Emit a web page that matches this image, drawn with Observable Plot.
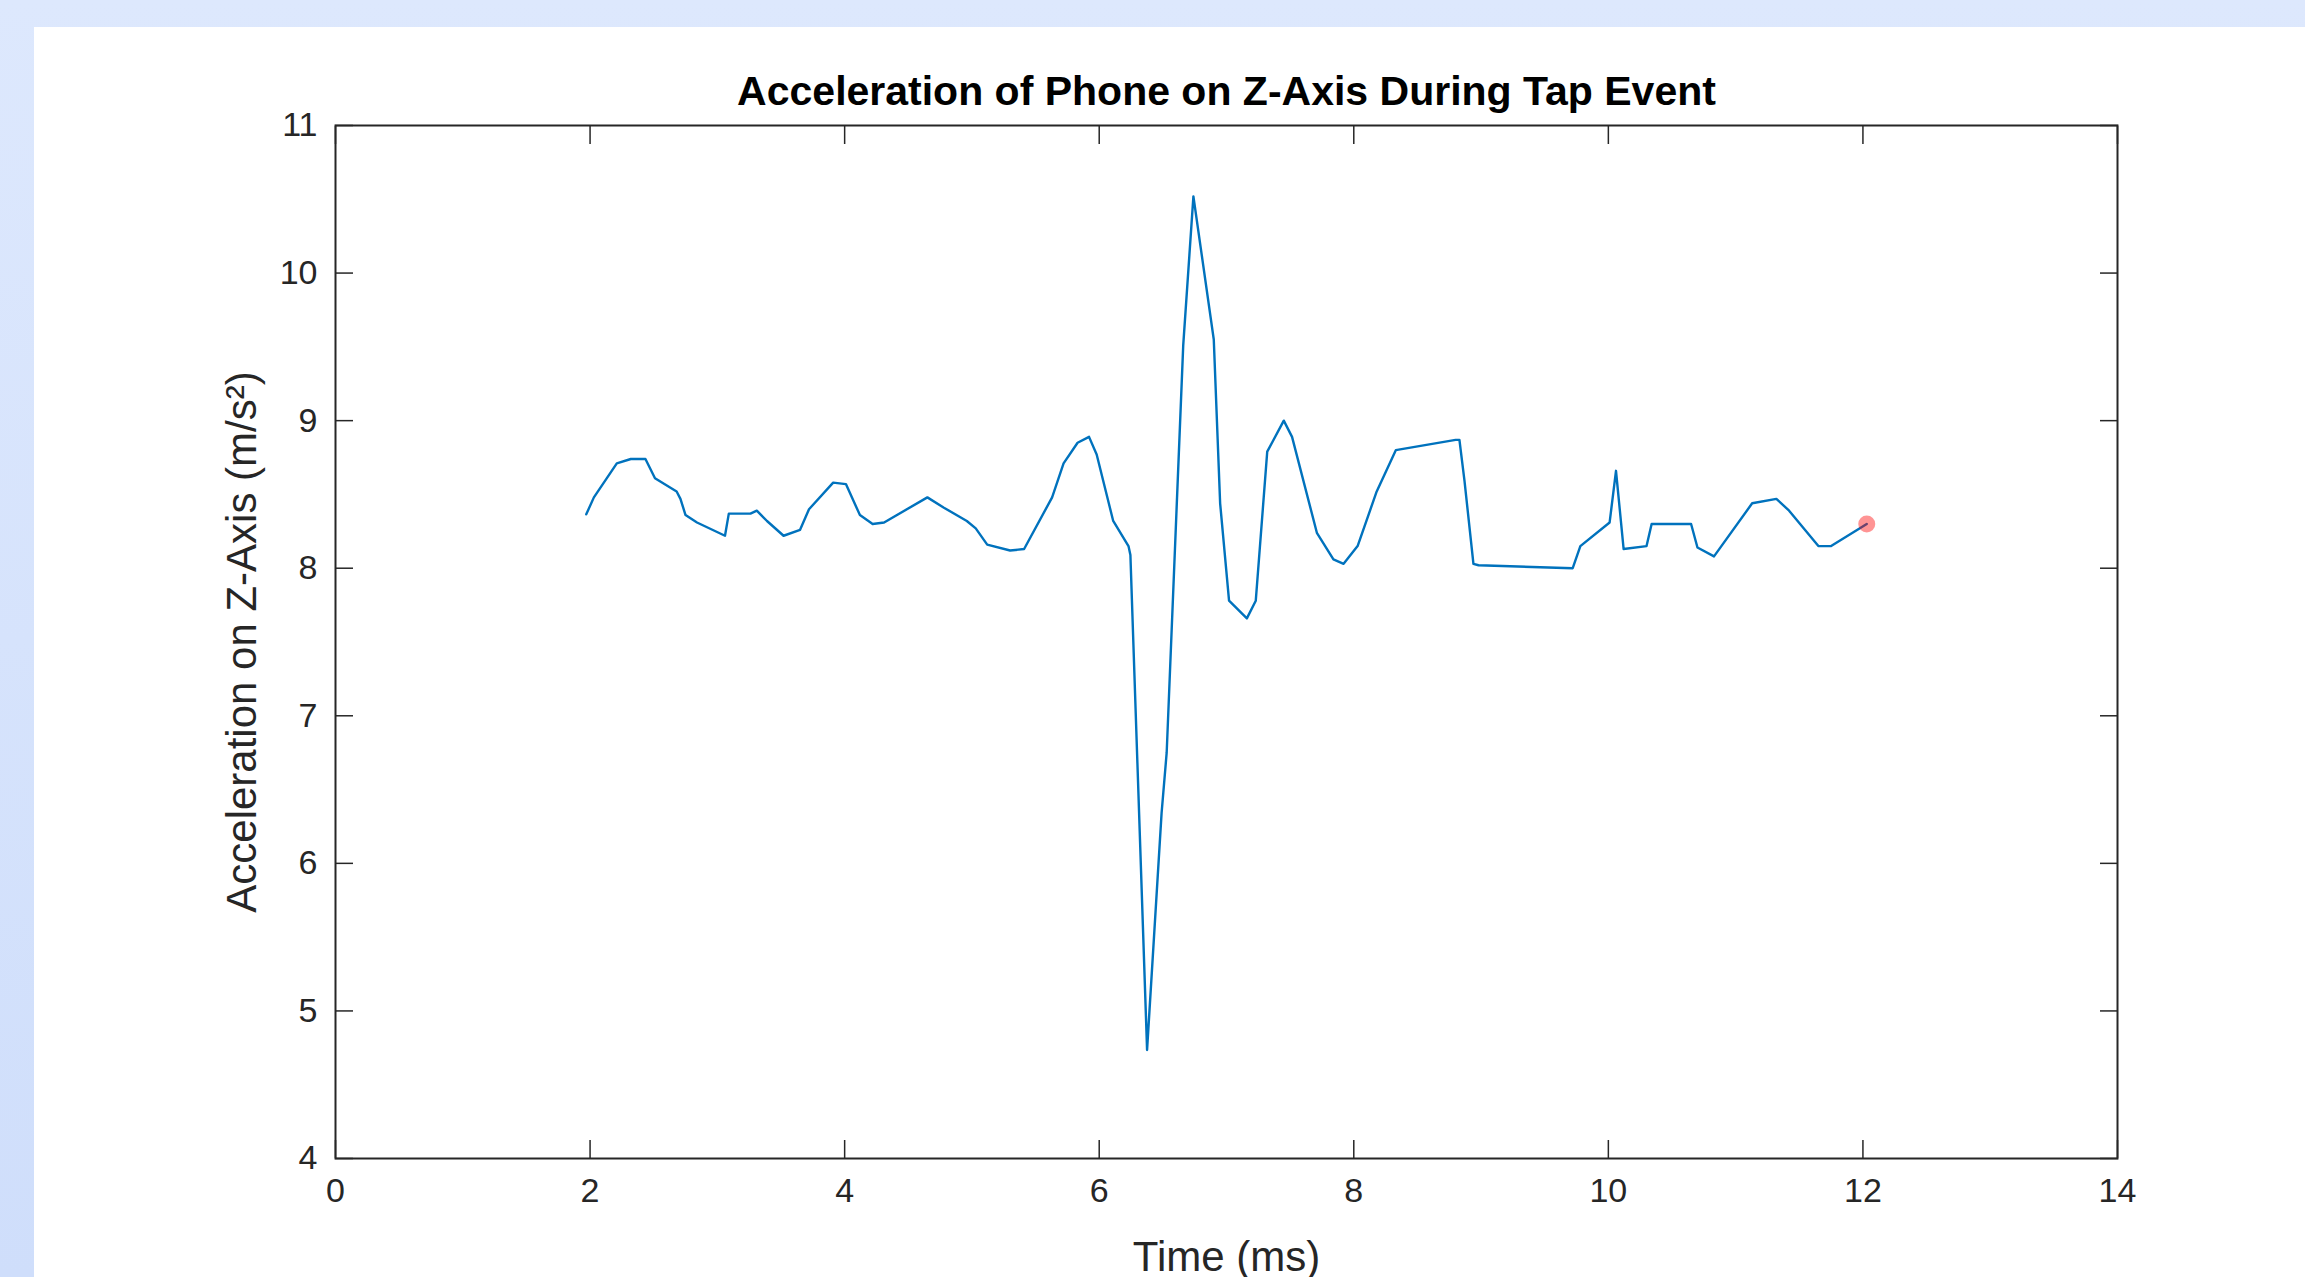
<!DOCTYPE html>
<html>
<head>
<meta charset="utf-8">
<script src="https://cdn.jsdelivr.net/npm/d3@7"></script>
<script src="https://cdn.jsdelivr.net/npm/@observablehq/plot@0.6"></script>
<style>
html, body { margin: 0; padding: 0; width: 2305px; height: 1277px; overflow: hidden;
  background: linear-gradient(to bottom, #dde8fd, #cfdefb); }
#panel { position: absolute; left: 34px; top: 27px; right: 0; bottom: 0; background: #ffffff; }
#chart { position: absolute; left: 0; top: 0; }
</style>
</head>
<body>
<div id="panel"></div>
<div id="chart"></div>
<script>
// ---- data ----
const timeMs = [1.97, 2.03, 2.21, 2.32, 2.435, 2.51, 2.68, 2.71, 2.75, 2.84, 3.06, 3.09, 3.26, 3.31, 3.39, 3.52, 3.65, 3.72, 3.91, 4.01,
  4.12, 4.22, 4.31, 4.65, 4.78, 4.96, 5.03, 5.12, 5.30, 5.41, 5.63, 5.72, 5.83, 5.92, 5.98, 6.11, 6.23, 6.245, 6.376, 6.49,
  6.53, 6.66, 6.74, 6.90, 6.95, 7.02, 7.16, 7.23, 7.32, 7.45, 7.515, 7.71, 7.84, 7.92, 8.03, 8.18, 8.33, 8.80, 8.83, 8.87,
  8.94, 8.98, 9.72, 9.78, 10.01, 10.06, 10.12, 10.30, 10.34, 10.65, 10.70, 10.83, 11.13, 11.32, 11.42, 11.65, 11.75, 12.03];
const accelZ = [8.365, 8.48, 8.71, 8.74, 8.74, 8.61, 8.52, 8.47, 8.36, 8.31, 8.22, 8.37, 8.37, 8.39, 8.32, 8.22, 8.26, 8.40, 8.58, 8.57,
  8.36, 8.30, 8.31, 8.48, 8.41, 8.32, 8.27, 8.16, 8.12, 8.13, 8.48, 8.71, 8.85, 8.89, 8.77, 8.32, 8.15, 8.09, 4.735, 6.34,
  6.75, 9.51, 10.52, 9.55, 8.44, 7.78, 7.66, 7.78, 8.79, 9.00, 8.89, 8.24, 8.06, 8.03, 8.15, 8.52, 8.80, 8.87, 8.87, 8.59,
  8.03, 8.02, 8.00, 8.15, 8.31, 8.66, 8.13, 8.15, 8.30, 8.30, 8.14, 8.08, 8.44, 8.47, 8.39, 8.15, 8.15, 8.30];
const markerTime = [12.03];
const markerAccel = [8.30];
const xTicks = [0, 2, 4, 6, 8, 10, 12, 14];
const yTicks = [4, 5, 6, 7, 8, 9, 10, 11];
const titleText = "Acceleration of Phone on Z-Axis During Tap Event";
const xLabel = "Time (ms)";
const yLabel = "Acceleration on Z-Axis (m/s²)";

const series = timeMs.map((t, i) => ({t, a: accelZ[i]}));
const marker = markerTime.map((t, i) => ({t, a: markerAccel[i]}));
const ink = "#262626";
const fmt = d3.format("d");

const chart = Plot.plot({
  width: 2305,
  height: 1277,
  marginLeft: 335,
  marginRight: 188,
  marginTop: 125,
  marginBottom: 119,
  style: {fontFamily: "'Liberation Sans', Arial, Helvetica, sans-serif", background: "transparent", overflow: "visible"},
  x: {domain: [0, 14]},
  y: {domain: [4, 11]},
  marks: [
    Plot.line(series, {x: "t", y: "a", stroke: "#0072BD", strokeWidth: 2.4}),
    Plot.dot(marker, {x: "t", y: "a", r: 8.5, fill: "#ff0000", fillOpacity: 0.42, stroke: null}),
    Plot.axisX(xTicks, {anchor: "bottom", tickSize: 0, tickPadding: 19, tickFormat: fmt, fontSize: 34, color: ink, label: null}),
    Plot.axisY(yTicks, {anchor: "left", tickSize: 0, tickPadding: 18, tickFormat: fmt, fontSize: 34, color: ink, label: null}),
    Plot.axisX(xTicks, {anchor: "bottom", text: null, tickSize: -18, stroke: ink, strokeWidth: 1.5, label: null}),
    Plot.axisX(xTicks, {anchor: "top", text: null, tickSize: -18, stroke: ink, strokeWidth: 1.5, label: null}),
    Plot.axisY(yTicks, {anchor: "left", text: null, tickSize: -18, stroke: ink, strokeWidth: 1.5, label: null}),
    Plot.axisY(yTicks, {anchor: "right", text: null, tickSize: -18, stroke: ink, strokeWidth: 1.5, label: null}),
    Plot.frame({stroke: ink, strokeWidth: 2}),
    Plot.text([titleText], {frameAnchor: "top", dy: -21, lineAnchor: "bottom", fontSize: 41, fontWeight: "bold", fill: "#000"}),
    Plot.text([xLabel], {frameAnchor: "bottom", dy: 99, lineAnchor: "middle", textAnchor: "middle", fontSize: 42, fill: ink}),
    Plot.text([yLabel], {frameAnchor: "left", dx: -93, rotate: -90, lineAnchor: "middle", textAnchor: "middle", fontSize: 42, fill: ink})
  ]
});
document.getElementById("chart").appendChild(chart);
</script>
</body>
</html>
